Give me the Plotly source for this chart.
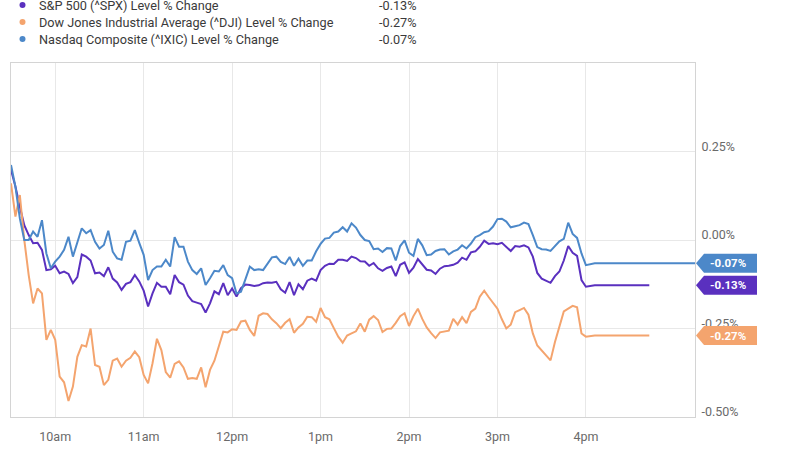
import pandas as pd
import plotly.graph_objects as go

DAY = "2021-06-01"
# 3-minute grid of the regular session, 9:30 -> 16:00 (131 points)
times = pd.date_range(f"{DAY} 09:30", f"{DAY} 16:00", freq="3min")
after_close_start = f"{DAY} 16:06"

spx = [0.198, 0.151, 0.094, 0.042, 0.014, -0.009, -0.008, -0.028, -0.085, -0.083,
       -0.073, -0.094, -0.089, -0.096, -0.122, -0.105, -0.041, -0.047, -0.058, -0.094,
       -0.092, -0.102, -0.077, -0.109, -0.120, -0.141, -0.124, -0.119, -0.099, -0.117,
       -0.143, -0.188, -0.151, -0.121, -0.132, -0.132, -0.153, -0.099, -0.119, -0.126,
       -0.157, -0.173, -0.177, -0.181, -0.205, -0.179, -0.145, -0.153, -0.122, -0.156,
       -0.137, -0.160, -0.136, -0.126, -0.127, -0.130, -0.128, -0.122, -0.120, -0.121,
       -0.118, -0.139, -0.149, -0.119, -0.156, -0.125, -0.139, -0.115, -0.109, -0.115,
       -0.085, -0.073, -0.067, -0.068, -0.056, -0.056, -0.059, -0.047, -0.051, -0.060,
       -0.061, -0.073, -0.065, -0.080, -0.087, -0.079, -0.075, -0.102, -0.070, -0.063,
       -0.093, -0.078, -0.054, -0.069, -0.084, -0.086, -0.096, -0.081, -0.074, -0.073,
       -0.070, -0.064, -0.050, -0.056, -0.035, -0.032, -0.019, -0.002, -0.011, -0.009,
       -0.012, -0.008, -0.019, -0.031, -0.017, -0.019, -0.015, -0.021, -0.047, -0.093,
       -0.109, -0.116, -0.121, -0.102, -0.089, -0.058, -0.017, -0.036, -0.045, -0.113,
       -0.132]

dji = [0.160, 0.066, 0.127, 0.000, -0.099, -0.179, -0.137, -0.151, -0.282, -0.254,
       -0.282, -0.386, -0.402, -0.455, -0.414, -0.330, -0.297, -0.301, -0.250, -0.353,
       -0.358, -0.410, -0.395, -0.341, -0.335, -0.358, -0.341, -0.333, -0.315, -0.331,
       -0.381, -0.405, -0.348, -0.279, -0.311, -0.373, -0.389, -0.350, -0.343, -0.360,
       -0.392, -0.390, -0.392, -0.360, -0.416, -0.367, -0.341, -0.303, -0.259, -0.261,
       -0.252, -0.254, -0.230, -0.228, -0.254, -0.271, -0.214, -0.207, -0.209, -0.224,
       -0.235, -0.249, -0.234, -0.224, -0.262, -0.247, -0.237, -0.217, -0.218, -0.231,
       -0.192, -0.218, -0.224, -0.249, -0.273, -0.290, -0.270, -0.264, -0.258, -0.236,
       -0.259, -0.225, -0.215, -0.226, -0.260, -0.251, -0.250, -0.234, -0.215, -0.207,
       -0.243, -0.215, -0.194, -0.223, -0.247, -0.263, -0.277, -0.261, -0.258, -0.256,
       -0.223, -0.239, -0.218, -0.235, -0.203, -0.194, -0.160, -0.143, -0.161, -0.179,
       -0.194, -0.224, -0.250, -0.239, -0.204, -0.198, -0.192, -0.211, -0.264, -0.298,
       -0.312, -0.328, -0.340, -0.288, -0.248, -0.202, -0.194, -0.186, -0.190, -0.264,
       -0.273]

ixic = [0.212, 0.151, 0.061, 0.000, 0.000, 0.024, 0.009, 0.056, -0.038, -0.080,
        -0.061, -0.047, -0.028, 0.009, -0.047, -0.009, 0.033, 0.019, 0.028, -0.005,
        -0.024, -0.014, 0.026, -0.033, -0.052, -0.056, -0.005, -0.002, 0.028, -0.008,
        -0.042, -0.113, -0.085, -0.075, -0.075, -0.056, -0.075, 0.008, -0.019, -0.019,
        -0.061, -0.085, -0.096, -0.080, -0.127, -0.108, -0.087, -0.089, -0.071, -0.099,
        -0.108, -0.151, -0.146, -0.111, -0.075, -0.085, -0.083, -0.085, -0.066, -0.049,
        -0.047, -0.062, -0.068, -0.048, -0.073, -0.053, -0.073, -0.058, -0.058, -0.032,
        -0.011, 0.004, 0.006, 0.021, 0.024, 0.036, 0.024, 0.047, 0.035, 0.014,
        0.000, -0.003, -0.026, -0.024, -0.034, -0.023, -0.024, -0.058, -0.017, -0.001,
        -0.036, -0.045, 0.003, -0.015, -0.043, -0.041, -0.031, -0.027, -0.026, -0.041,
        -0.032, -0.027, -0.015, -0.024, -0.010, 0.008, 0.014, 0.022, 0.025, 0.038,
        0.059, 0.060, 0.052, 0.036, 0.039, 0.042, 0.049, 0.045, 0.014, -0.020,
        -0.026, -0.027, -0.031, -0.016, -0.004, 0.003, 0.049, 0.017, 0.006, -0.038,
        -0.071]

# settled (after-close) level and where each flat segment ends
close_level = {"spx": -0.128, "dji": -0.270, "ixic": -0.066}
line_end = {"spx": f"{DAY} 16:43", "dji": f"{DAY} 16:43", "ixic": f"{DAY} 17:14"}

series_keys = ["spx", "dji", "ixic"]
series_values = {"spx": spx, "dji": dji, "ixic": ixic}
series_names = {
    "spx": "S&P 500 (^SPX) Level % Change",
    "dji": "Dow Jones Industrial Average (^DJI) Level % Change",
    "ixic": "Nasdaq Composite (^IXIC) Level % Change",
}
series_colors = {"spx": "#5a30bf", "dji": "#f4a46e", "ixic": "#4c88c9"}

hour_ticks = [f"{DAY} {h}:00" for h in ["10", "11", "12", "13", "14", "15", "16"]]
hour_labels = ["10am", "11am", "12pm", "1pm", "2pm", "3pm", "4pm"]
y_ticks = [-0.5, -0.25, 0.0, 0.25]
y_labels = ["-0.50%", "-0.25%", "0.00%", "0.25%"]
x_range = [f"{DAY} 09:30", f"{DAY} 17:14"]

FONT = "Roboto, 'Noto Sans', Arial, sans-serif"

fig = go.Figure()
for key in ["spx", "dji", "ixic"]:
    xs = list(times) + [pd.Timestamp(after_close_start), pd.Timestamp(line_end[key])]
    ys = list(series_values[key]) + [close_level[key], close_level[key]]
    fig.add_trace(go.Scatter(x=xs, y=ys, mode="lines", name=series_names[key],
                             line=dict(color=series_colors[key], width=2),
                             hoverinfo="skip", showlegend=False))

shapes = []
annotations = []
legend_rows_shift = [58, 41, 24]
for key, shift in zip(series_keys, legend_rows_shift):
    # legend dot
    shapes.append(dict(type="circle", xref="paper", yref="paper",
                       xsizemode="pixel", ysizemode="pixel",
                       xanchor=0, yanchor=1,
                       x0=8.5, x1=14.5, y0=shift - 3, y1=shift + 3,
                       fillcolor=series_colors[key], line=dict(width=0)))
    annotations.append(dict(xref="paper", yref="paper", x=0, y=1,
                            xshift=26, yshift=shift, xanchor="left", yanchor="middle",
                            text=series_names[key], showarrow=False,
                            font=dict(family=FONT, size=12.7, color="#3a3a3a")))
    annotations.append(dict(xref="paper", yref="paper", x=0, y=1,
                            xshift=408, yshift=shift, xanchor="right", yanchor="middle",
                            text=f"{close_level[key]:.2f}%", showarrow=False,
                            font=dict(family=FONT, size=12.7, color="#3a3a3a")))
    # value badge on the right axis
    shapes.append(dict(type="path", xref="paper", yref="y",
                       xsizemode="pixel", ysizemode="pixel",
                       xanchor=1, yanchor=close_level[key],
                       path="M 1,0 L 9,9.5 L 62,9.5 L 62,-9.5 L 9,-9.5 Z",
                       fillcolor=series_colors[key], line=dict(width=0), layer="above"))
    annotations.append(dict(xref="paper", yref="y", x=1, y=close_level[key],
                            xshift=33, xanchor="center", yanchor="middle",
                            text=f"<b>{close_level[key]:.2f}%</b>", showarrow=False,
                            font=dict(family=FONT, size=11.5, color="#ffffff")))

fig.update_layout(
    width=800, height=450,
    margin=dict(l=11, r=105, t=63, b=33, autoexpand=False),
    paper_bgcolor="#ffffff", plot_bgcolor="#ffffff",
    font=dict(family=FONT, size=12, color="#6a6a6a"),
    shapes=shapes, annotations=annotations,
    showlegend=False,
)
fig.update_xaxes(type="date", range=x_range, tickvals=hour_ticks, ticktext=hour_labels,
                 showgrid=True, gridcolor="#e8e8e8", gridwidth=1,
                 showline=True, linecolor="#d4d4d4", linewidth=1, mirror=True,
                 ticks="", zeroline=False, ticklabelstandoff=8, automargin=False,
                 tickfont=dict(family=FONT, size=12.5, color="#6a6a6a"))
fig.update_yaxes(side="right", range=[-0.5, 0.5], tickvals=y_ticks, ticktext=y_labels,
                 showgrid=True, gridcolor="#e8e8e8", gridwidth=1,
                 showline=True, linecolor="#d4d4d4", linewidth=1, mirror=True,
                 ticks="", zeroline=False, ticklabelstandoff=3, ticklabelshift=-5,
                 automargin=False,
                 tickfont=dict(family=FONT, size=12.5, color="#6a6a6a"))

fig.write_html("out.html")
